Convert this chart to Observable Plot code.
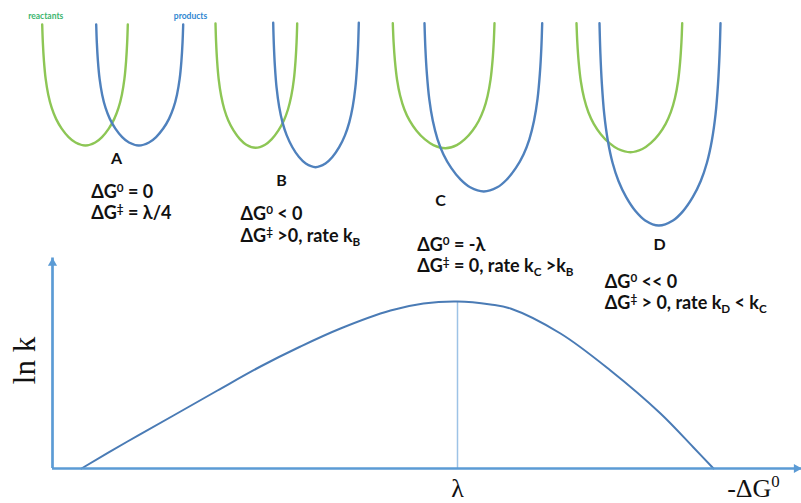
<!DOCTYPE html>
<html><head><meta charset="utf-8">
<script src="https://cdn.jsdelivr.net/npm/d3@7"></script>
<script src="https://cdn.jsdelivr.net/npm/@observablehq/plot@0.6"></script>
<style>
html,body{margin:0;padding:0;background:#fff;}
#chart{width:801px;height:503px;overflow:hidden;}
</style></head><body><div id="chart"></div>
<script>
// Diagram units: x = -ΔG⁰ (λ = 405 units), y = ln k / free energy (arbitrary units)
const speciesNames = ["reactants", "products"];
const wellLetters = ["A", "B", "C", "D"];

// Well outline, normalised:
// [height above the minimum as a fraction of the well depth, half-width as a fraction of the rim half-width]
const wellProfileH = [1.00, 0.85, 0.70, 0.55, 0.42, 0.31, 0.22, 0.14, 0.07, 0.025, 0];
const wellProfileU = [1.00, 0.985, 0.96, 0.92, 0.86, 0.78, 0.68, 0.55, 0.39, 0.23, 0];

// Each well: [left rim x, minimum x, right rim x, minimum G, rim G]
const reactantsA = [-10.3, 33, 75.3, 323, 444];
const productsA  = [43.7, 86.3, 130.7, 323, 444];
const reactantsB = [163, 203, 244.7, 320.7, 445];
const productsB  = [220.7, 263, 306.3, 301.3, 445.8];
const reactantsC = [340.3, 393, 442, 320.3, 445.3];
const productsC  = [372, 431.3, 489.7, 277, 445.3];
const reactantsD = [524, 578, 629.7, 316.3, 445.3];
const productsD  = [547, 606.3, 668, 243, 445.3];

// Marcus curve: ln k versus -ΔG⁰
const minusDG = [29, 75, 121, 165, 208, 248, 288, 338, 371, 405, 438, 458, 508, 558, 608, 641, 661];
const lnK     = [0, 27, 53, 78, 102, 122, 140, 158, 165, 167, 164, 160, 135, 98, 55, 21, 0];
const lambdaValue = 405;
const xAxisEnd = 749;
const yAxisEnd = 210.5;

// Text
const letterAt = [[64,310],[229,287.3],[388,268],[607,223.7]];
const conditionLines = [
  "ΔG^{0} = 0", "ΔG^{‡} = λ/4",
  "ΔG^{0} < 0", "ΔG^{‡} >0, rate k_{B}",
  "ΔG^{0} = -λ", "ΔG^{‡} = 0, rate k_{C} >k_{B}",
  "ΔG^{0} << 0", "ΔG^{‡} > 0, rate k_{D} < k_{C}"
];
const conditionAt = [[38.7,276],[38.7,255],[188,254],[188,232],[364.7,223],[364.7,202],[552.3,186],[552.3,165]];
const speciesAt = [[-24.3,452],[121.3,452.7]];
const yAxisLabel = "ln k";
const xTickLabel = "λ";
const xAxisLabel = "-ΔG^{0}";

const green = "#8dc655", blue = "#4f81bd";
const axisColor = "#5b9bd5";

// Build tables for the library
const wellSets = [reactantsA, productsA, reactantsB, productsB, reactantsC, productsC, reactantsD, productsD];
const n = wellProfileH.length;
const wellTable = wellSets.flatMap(([xl, xm, xr, g0, gTop], k) => {
  const left = wellProfileH.map((h, j) => ({x: xm - wellProfileU[j] * (xm - xl), y: g0 + h * (gTop - g0)}));
  const right = d3.range(n - 2, -1, -1).map(j => ({x: xm + wellProfileU[j] * (xr - xm), y: g0 + wellProfileH[j] * (gTop - g0)}));
  return [...left, ...right].map(p => ({...p, key: k, well: wellLetters[k >> 1], species: speciesNames[k % 2]}));
});
const rateTable = minusDG.map((x, i) => ({x, y: lnK[i]}));
const letterTable = wellLetters.map((t, i) => ({t, x: letterAt[i][0], y: letterAt[i][1]}));
const condTable = conditionLines.map((t, i) => ({t, x: conditionAt[i][0], y: conditionAt[i][1]}));
const speciesTable = speciesNames.map((t, i) => ({t, x: speciesAt[i][0], y: speciesAt[i][1]}));
const peak = d3.max(lnK);

const chart = Plot.plot({
  width: 801, height: 503, margin: 0,
  x: {domain: [-52, 749], axis: null},
  y: {domain: [-35, 468], axis: null},
  color: {domain: speciesNames, range: [green, blue]},
  style: {background: "#fff", overflow: "visible"},
  marks: [
    Plot.line(wellTable, {x: "x", y: "y", z: "key", stroke: "species", strokeWidth: 2.4, curve: "catmull-rom"}),
    Plot.ruleX([lambdaValue], {y1: 0, y2: peak, stroke: "#9dc3e6", strokeWidth: 1.5}),
    Plot.line(rateTable, {x: "x", y: "y", stroke: "#4a7bb5", strokeWidth: 2, curve: "catmull-rom"}),
    Plot.ruleY([0], {x1: 0, x2: xAxisEnd, stroke: axisColor, strokeWidth: 2.7}),
    Plot.ruleX([0], {y1: 0, y2: yAxisEnd, stroke: axisColor, strokeWidth: 2.7}),
    Plot.dot([{x: 0, y: yAxisEnd}], {x: "x", y: "y", symbol: "triangle", r: 3.4, fill: axisColor, stroke: "none", dy: 5}),
    Plot.dot([{x: xAxisEnd, y: 0}], {x: "x", y: "y", symbol: "triangle", r: 3.4, fill: axisColor, stroke: "none", rotate: 90, dx: -5}),
    Plot.text(speciesTable, {x: "x", y: "y", text: "t", fill: (d, i) => i === 0 ? "#3cb56e" : "#2e86d1",
      textAnchor: "start", fontFamily: "Lato", fontWeight: "bold", fontSize: 8.5}),
    Plot.text(letterTable, {x: "x", y: "y", text: "t", fill: "#111", textAnchor: "middle",
      fontFamily: "Lato", fontWeight: "bold", fontSize: 16}),
    Plot.text(condTable, {x: "x", y: "y", text: "t", fill: "#111", textAnchor: "start",
      fontFamily: "Lato", fontWeight: "bold", fontSize: 18}),
    Plot.text([yAxisLabel], {x: -27, y: 108, text: d => d, rotate: -90, fill: "#111",
      fontFamily: "Liberation Serif", fontSize: 31}),
    Plot.text([xTickLabel], {x: lambdaValue, y: -20, text: d => d, textAnchor: "middle", fill: "#111",
      fontFamily: "Liberation Serif", fontSize: 26}),
    Plot.text([xAxisLabel], {x: 674.7, y: -20, text: d => d, textAnchor: "start", fill: "#111",
      fontFamily: "Liberation Serif", fontSize: 26})
  ]
});

function richText(svg) {
  svg.querySelectorAll("text").forEach(el => {
    const s = el.textContent;
    if (!/[\^_]\{/.test(s)) return;
    const parts = s.split(/(\^\{[^}]*\}|_\{[^}]*\})/).filter(p => p.length);
    el.textContent = "";
    let shift = 0;
    for (const p of parts) {
      const ts = document.createElementNS("http://www.w3.org/2000/svg", "tspan");
      let target = 0, small = false, txt = p;
      if (p.startsWith("^{")) { target = -0.36; small = true; txt = p.slice(2, -1); }
      else if (p.startsWith("_{")) { target = 0.22; small = true; txt = p.slice(2, -1); }
      const delta = target - shift;
      if (small) { ts.setAttribute("font-size", "65%"); ts.setAttribute("dy", (delta / 0.65).toFixed(3) + "em"); }
      else if (delta !== 0) ts.setAttribute("dy", delta.toFixed(3) + "em");
      ts.textContent = txt;
      el.appendChild(ts);
      shift = target;
    }
  });
}
richText(chart);
document.getElementById("chart").appendChild(chart);
</script>
</body></html>
